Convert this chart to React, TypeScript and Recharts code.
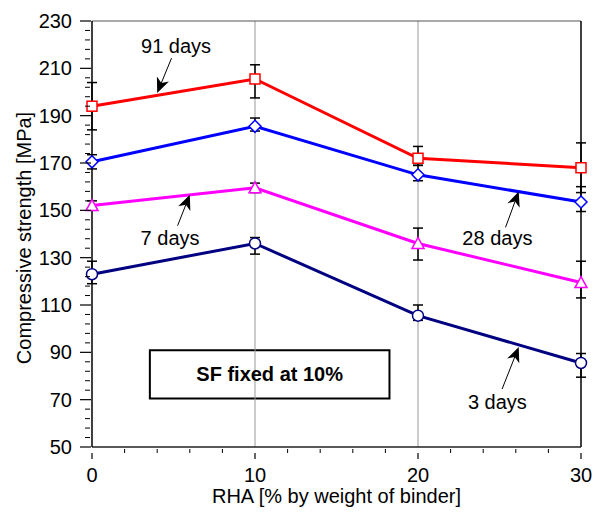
import React from "react";
import {
  LineChart,
  Line,
  XAxis,
  YAxis,
  ErrorBar,
  ReferenceLine,
  ReferenceArea,
  ReferenceDot,
} from "recharts";

const FONT = "'Liberation Sans', Arial, sans-serif";

// RHA content (% by weight of binder)
const rha = [0, 10, 20, 30];

// compressive strength (MPa) per age
const days3 = [123, 136, 105.5, 85.5];
const days7 = [152, 159.5, 136, 119.5];
const days28 = [170.5, 185.5, 165, 153.5];
const days91 = [194, 205.5, 172, 168];

// error bars as [below, above]
const err3 = [[4, 5.5], [4.5, 2.5], [2, 4.5], [6, 4]];
const err7 = [[2, 2], [2, 2], [7, 6.5], [6.5, 9]];
const err28 = [[3, 3], [2, 3.5], [2.5, 4], [4, 6.5]];
const err91 = [[10, 10], [8, 6], [3, 5], [10.5, 10.5]];

const xMajor = [0, 10, 20, 30];
const yMajor = [50, 70, 90, 110, 130, 150, 170, 190, 210, 230];

const xTicks: number[] = [];
for (let v = 0; v <= 30; v += 2) xTicks.push(v);
const yTicks: number[] = [];
for (let v = 50; v <= 230; v += 4) yTicks.push(v);

const data = rha.map((x, i) => ({
  rha: x,
  d3: days3[i],
  d7: days7[i],
  d28: days28[i],
  d91: days91[i],
  e3: err3[i],
  e7: err7[i],
  e28: err28[i],
  e91: err91[i],
}));

const XTick = (props: any) => {
  const { x, y, payload } = props;
  const major = xMajor.includes(payload.value);
  return (
    <g>
      {major ? (
        <line x1={x} y1={y} x2={x} y2={y + 6} stroke="#000" strokeWidth={1.2} />
      ) : (
        <line x1={x} y1={y} x2={x} y2={y - 4} stroke="#000" strokeWidth={1} />
      )}
      {major && (
        <text x={x} y={y + 29} textAnchor="middle" fontSize={20} fontFamily={FONT} fill="#000">
          {payload.value}
        </text>
      )}
    </g>
  );
};

const YTick = (props: any) => {
  const { x, y, payload } = props;
  const major = yMajor.includes(payload.value);
  return (
    <g>
      {major ? (
        <line x1={x - 6} y1={y} x2={x + 5} y2={y} stroke="#000" strokeWidth={1.2} />
      ) : (
        <line x1={x - 1} y1={y} x2={x + 4} y2={y} stroke="#000" strokeWidth={1} />
      )}
      {major && (
        <text x={x - 14} y={y + 7} textAnchor="end" fontSize={20} fontFamily={FONT} fill="#000">
          {payload.value}
        </text>
      )}
    </g>
  );
};

const Square = (props: any) => {
  const { cx, cy, index } = props;
  return (
    <rect key={`sq-${index}`} x={cx - 5} y={cy - 5} width={10} height={10}
      fill="#fff" stroke="#FF0000" strokeWidth={1.5} />
  );
};

const Diamond = (props: any) => {
  const { cx, cy, index } = props;
  return (
    <polygon key={`dm-${index}`}
      points={`${cx},${cy - 6} ${cx + 6},${cy} ${cx},${cy + 6} ${cx - 6},${cy}`}
      fill="#fff" stroke="#0000FF" strokeWidth={1.5} />
  );
};

const Triangle = (props: any) => {
  const { cx, cy, index } = props;
  return (
    <polygon key={`tr-${index}`}
      points={`${cx},${cy - 6} ${cx + 6},${cy + 5} ${cx - 6},${cy + 5}`}
      fill="#fff" stroke="#FF00FF" strokeWidth={1.5} />
  );
};

const Circle = (props: any) => {
  const { cx, cy, index } = props;
  return <circle key={`ci-${index}`} cx={cx} cy={cy} r={5.5} fill="#fff" stroke="#000080" strokeWidth={1.5} />;
};

// annotation arrow: first segment point is the tail, second the tip
const Arrow = (props: any) => {
  const { x1, y1, x2, y2 } = props;
  if (x1 == null || y2 == null) return <g />;
  const a = Math.atan2(y2 - y1, x2 - x1);
  const c = Math.cos(a);
  const s = Math.sin(a);
  const L = 15;
  const W = 6.5;
  const bx = x2 - L * c;
  const by = y2 - L * s;
  const nx = x2 - L * 0.72 * c;
  const ny = y2 - L * 0.72 * s;
  return (
    <g>
      <line x1={x1} y1={y1} x2={nx} y2={ny} stroke="#000" strokeWidth={1} />
      <polygon
        points={`${x2},${y2} ${bx + W * s},${by - W * c} ${nx},${ny} ${bx - W * s},${by + W * c}`}
        fill="#000"
      />
    </g>
  );
};

const annotations = [
  { text: "91 days", x: 5.16, y: 219.5, tail: { x: 4.88, y: 214.3 }, tip: { x: 4.0, y: 199.6 } },
  { text: "7 days", x: 4.79, y: 138.2, tail: { x: 5.25, y: 143.5 }, tip: { x: 6.0, y: 156.6 } },
  { text: "28 days", x: 24.87, y: 138.2, tail: { x: 25.37, y: 142.8 }, tip: { x: 26.18, y: 158.0 } },
  { text: "3 days", x: 24.87, y: 69, tail: { x: 25.16, y: 74.5 }, tip: { x: 26.18, y: 92.3 } },
];

const YLabel = (props: any) => {
  const vb = props.viewBox || { x: 0, y: 0, height: 0 };
  const cx = vb.x + 26;
  const cy = vb.y + vb.height / 2 + 4;
  return (
    <text x={cx} y={cy} transform={`rotate(-90 ${cx} ${cy})`} textAnchor="middle"
      dominantBaseline="middle" fontSize={20} fontFamily={FONT} fill="#000">
      Compressive strength [MPa]
    </text>
  );
};

const XLabel = (props: any) => {
  const vb = props.viewBox || { x: 0, y: 0, width: 0 };
  return (
    <text x={vb.x + vb.width / 2} y={vb.y + 56} textAnchor="middle" fontSize={20}
      fontFamily={FONT} fill="#000">
      RHA [% by weight of binder]
    </text>
  );
};

const series = [
  { key: "d91", err: "e91", color: "#FF0000", dot: Square },
  { key: "d28", err: "e28", color: "#0000FF", dot: Diamond },
  { key: "d7", err: "e7", color: "#FF00FF", dot: Triangle },
  { key: "d3", err: "e3", color: "#000080", dot: Circle },
];

export default function App() {
  return (
    <div style={{ position: "absolute", left: 0, top: 0, background: "#fff" }}>
      <LineChart width={599} height={515} data={data}
        margin={{ top: 21, right: 18, left: 0, bottom: 0 }}>
        <XAxis dataKey="rha" type="number" domain={[0, 30]} ticks={xTicks} interval={0}
          tickLine={false} tickMargin={0} height={68} tick={<XTick />}
          axisLine={{ stroke: "#222", strokeWidth: 1.5 }} label={<XLabel />} />
        <YAxis type="number" domain={[50, 230]} ticks={yTicks} interval={0}
          tickLine={false} tickMargin={0} width={92} tick={<YTick />}
          axisLine={{ stroke: "#000", strokeWidth: 1.5 }} label={<YLabel />} />
        <ReferenceLine x={10} stroke="#999" strokeWidth={1} />
        <ReferenceLine x={20} stroke="#999" strokeWidth={1} />
        <ReferenceLine y={230} stroke="#555" strokeWidth={1} />
        <ReferenceLine x={30} stroke="#000" strokeWidth={1.5} />
        <ReferenceArea x1={3.55} x2={18.25} y1={70.5} y2={90.9} fill="#fff" fillOpacity={1}
          stroke="#000" strokeWidth={2}
          label={{ value: "SF fixed at 10%", position: "center", fontSize: 20, fontWeight: "bold",
            fill: "#000", fontFamily: FONT }} />
        {series.map((s) => (
          <Line key={s.key} dataKey={s.key} stroke={s.color} strokeWidth={3}
            isAnimationActive={false} dot={s.dot} activeDot={false}>
            <ErrorBar dataKey={s.err} direction="y" width={5} stroke="#000" strokeWidth={1.5} />
          </Line>
        ))}
        {annotations.map((a) => (
          <ReferenceLine key={`ar-${a.text}`} segment={[a.tail, a.tip]} shape={Arrow} />
        ))}
        {annotations.map((a) => (
          <ReferenceDot key={`lb-${a.text}`} x={a.x} y={a.y} r={1} fill="none" stroke="none"
            label={{ value: a.text, position: "center", fontSize: 20, fill: "#000", fontFamily: FONT }} />
        ))}
      </LineChart>
    </div>
  );
}
